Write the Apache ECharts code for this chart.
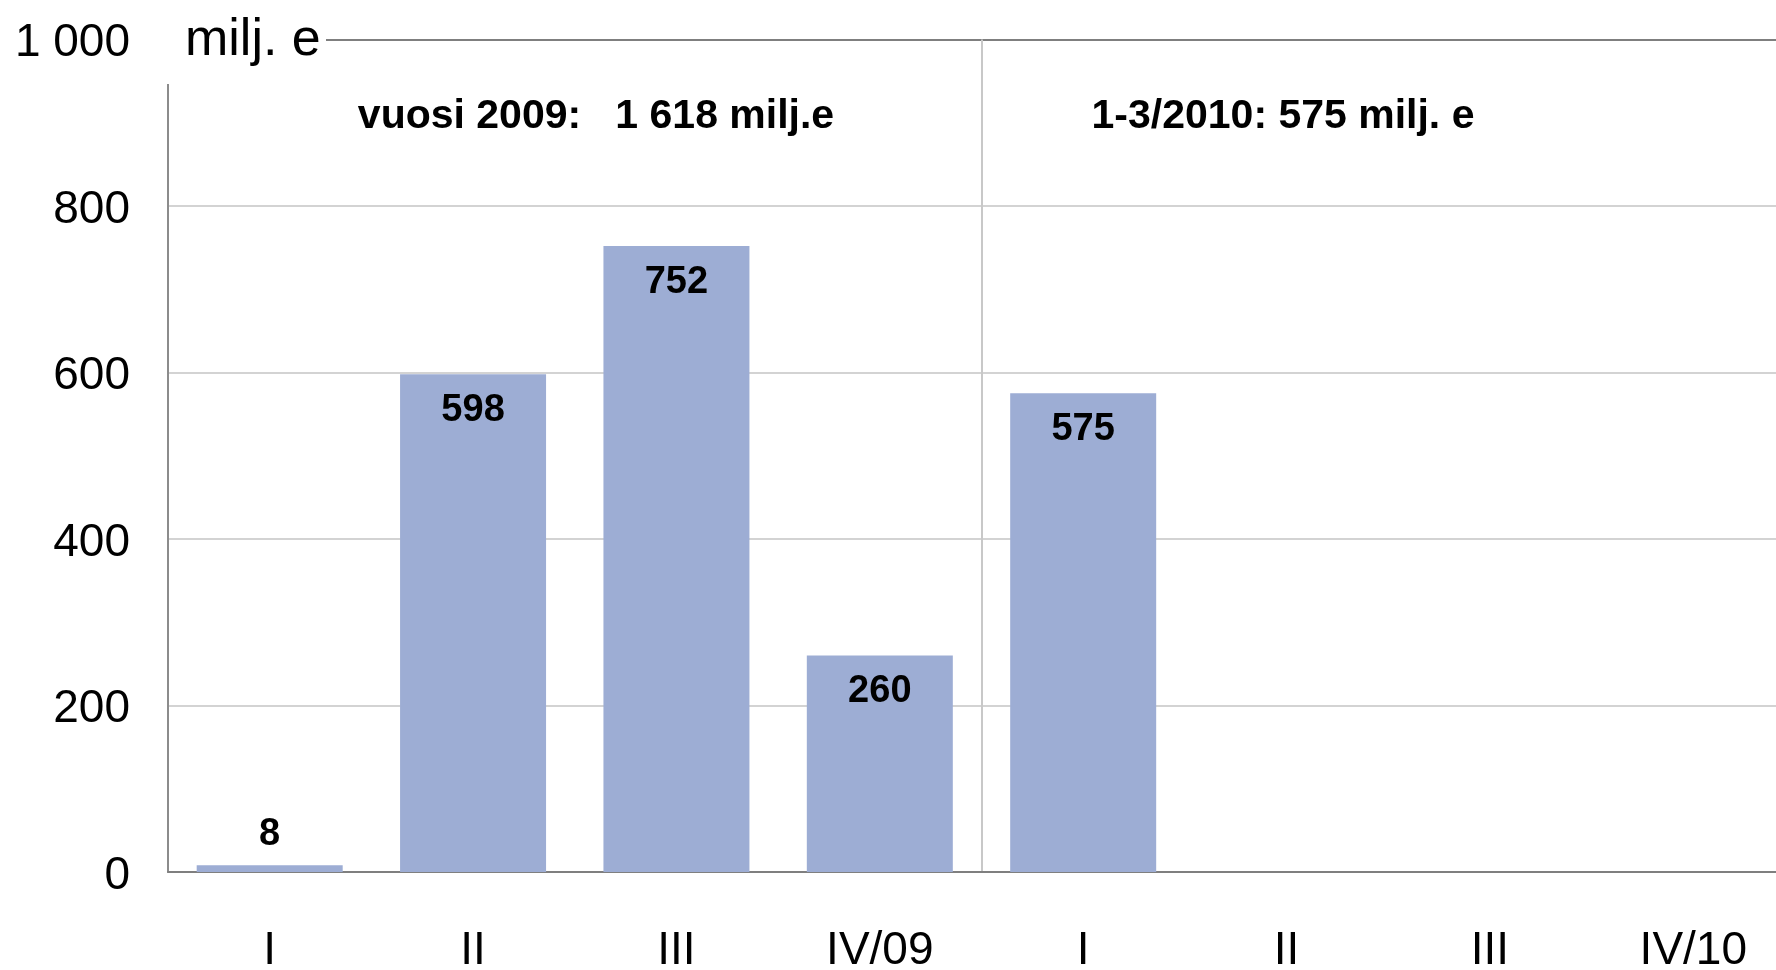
<!DOCTYPE html>
<html>
<head>
<meta charset="utf-8">
<script src="https://cdn.jsdelivr.net/npm/echarts@6/dist/echarts.min.js"></script>
<style>
html, body { margin: 0; padding: 0; background: #fff; }
#main { width: 1776px; height: 970px; }
</style>
</head>
<body>
<div id="main"></div>
<script>
// neljännekset 2009 ja 2010
var categories = ['I', 'II', 'III', 'IV/09', 'I', 'II', 'III', 'IV/10'];
var values = [8, 598, 752, 260, 575, null, null, null];
var yTicks = [0, 200, 400, 600, 800, 1000];
var unitText = 'milj. e';
var note2009 = 'vuosi 2009:   1 618 milj.e';
var note2010 = '1-3/2010: 575 milj. e';

var myChart = echarts.init(document.getElementById('main'));
var font = '"Liberation Sans", Arial, sans-serif';

// pienet pylväät: luku pylvään yläpuolelle
var barData = [];
for (var i = 0; i < values.length; i++) {
    var item = { value: values[i] };
    if (values[i] !== null && values[i] < 50) {
        item.label = { position: 'top', distance: 12 };
    }
    barData.push(item);
}

// ylin viiva tummempi
var gridColors = [];
for (var j = 0; j < yTicks.length; j++) {
    gridColors.push(j === yTicks.length - 1 ? '#7f7f7f' : '#d3d3d3');
}

var option = {
    animation: false,
    backgroundColor: '#fff',
    grid: { left: 168, top: 39.6, bottom: 98, width: 1627, outerBoundsMode: 'none' },
    xAxis: [{
        type: 'category',
        data: categories,
        axisLine: { show: true, lineStyle: { color: '#7f7f7f', width: 2 } },
        axisTick: { show: false },
        axisLabel: { fontFamily: font, fontSize: 46, color: '#000', margin: 56 },
        splitLine: { show: false }
    }, {
        // vuosien välinen pystyviiva
        type: 'value',
        position: 'bottom',
        min: 0,
        max: categories.length,
        interval: 4,
        axisLine: { show: false },
        axisTick: { show: false },
        axisLabel: { show: false },
        splitLine: { show: true, lineStyle: { color: '#c8c8c8', width: 2 } }
    }],
    yAxis: {
        type: 'value',
        min: yTicks[0],
        max: yTicks[yTicks.length - 1],
        interval: 200,
        axisLine: { show: true, lineStyle: { color: '#8c8c8c', width: 2 } },
        axisTick: { show: false },
        axisLabel: {
            margin: 38,
            formatter: function (v) {
                var s = v >= 1000 ? String(v).replace(/(\d)(\d{3})$/, '$1 $2') : String(v);
                return '{n|' + s + '}';
            },
            rich: {
                n: { fontFamily: font, fontSize: 46, color: '#000', padding: [8, 0, 0, 0] }
            }
        },
        splitLine: { show: true, lineStyle: { color: gridColors, width: 2 } }
    },
    series: [{
        type: 'bar',
        data: barData,
        barWidth: 146,
        itemStyle: { color: '#9dadd4' },
        label: {
            show: true,
            position: 'insideTop',
            distance: 17,
            fontFamily: font,
            fontSize: 38,
            fontWeight: 'bold',
            color: '#000'
        }
    }],
    graphic: [
        { type: 'rect', z: 100, shape: { x: 150, y: 0, width: 176, height: 84 }, style: { fill: '#fff' } },
        { type: 'text', z: 101, left: 185, top: 15, style: { text: unitText, font: '52px ' + font, fill: '#000' } },
        { type: 'text', z: 101, x: 596, y: 117, style: { text: note2009, font: 'bold 41px ' + font, fill: '#000', align: 'center', verticalAlign: 'middle' } },
        { type: 'text', z: 101, x: 1283, y: 117, style: { text: note2010, font: 'bold 41px ' + font, fill: '#000', align: 'center', verticalAlign: 'middle' } }
    ]
};
myChart.setOption(option);
</script>
</body>
</html>
